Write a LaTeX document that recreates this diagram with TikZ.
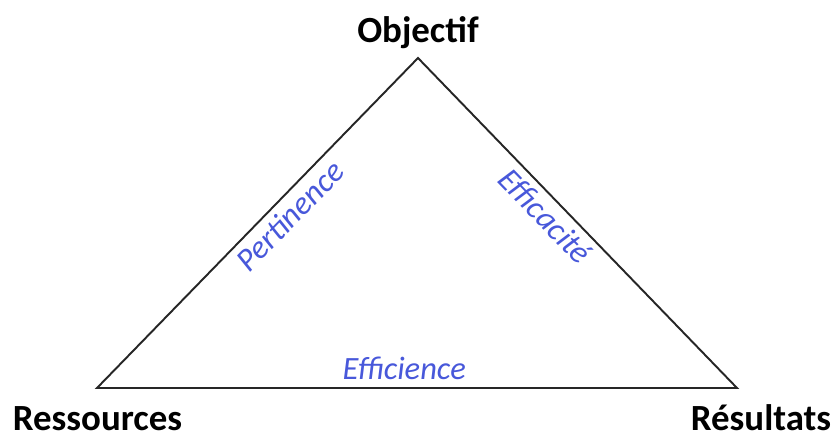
\documentclass[tikz,border=0pt]{standalone}
\usepackage{fontspec}
\setmainfont{Carlito}
\usetikzlibrary{positioning}
\definecolor{sideblue}{RGB}{72,88,218}

\begin{document}
\begin{tikzpicture}[
  corner/.style={font=\fontsize{21}{25}\selectfont\bfseries, inner sep=0pt, anchor=base},
  side/.style={font=\fontsize{18.5}{22}\selectfont\itshape, text=sideblue},
  edge/.style={line width=1.1pt, draw=black!85, line join=miter},
]
  \useasboundingbox (0,0) rectangle (16.68,8.74);
  \coordinate (obj) at (8.36, 7.58);
  \coordinate (res) at (1.94, 0.98);
  \coordinate (out) at (14.74, 0.98);
  \draw[edge] (res)
    -- node[side, sloped, below, pos=0.56] {Pertinence} (obj)
    -- node[side, sloped, below, pos=0.44] {Efficacité} (out)
    -- node[side, above, pos=0.52, yshift=1pt] {Efficience} cycle;

  \node[corner] (objlbl) at (8.36, 7.88) {Objectif};
  \node[corner] (reslbl) at (1.95, 0.14) {Ressources};
  \node[corner] (outlbl) at (15.22, 0.14) {Résultats};
\end{tikzpicture}
\end{document}
